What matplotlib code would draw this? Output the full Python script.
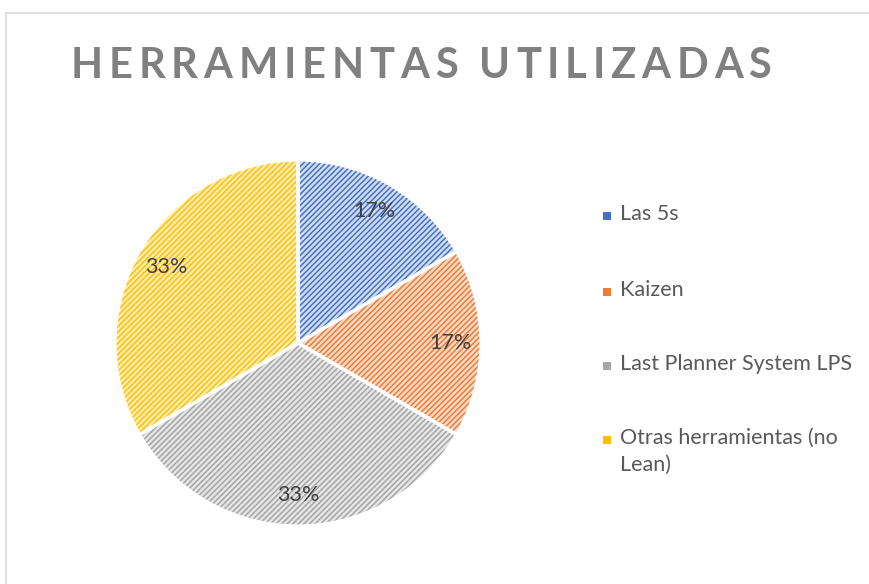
import matplotlib.pyplot as plt
from matplotlib.patches import Rectangle

labels = ["Las 5s", "Kaizen", "Last Planner System LPS", "Otras herramientas (no\nLean)"]
values = [1, 1, 2, 2]
dark = ["#4472C4", "#ED7D31", "#A5A5A5", "#FFC000"]
light = ["#D3DDF2", "#FADACA", "#E6E6E6", "#FFEDB5"]
title = "HERRAMIENTAS UTILIZADAS"

plt.rcParams["font.family"] = ["Lato", "DejaVu Sans"]
plt.rcParams["hatch.linewidth"] = 1.1

fig = plt.figure(figsize=(8.7, 5.84), dpi=100)
fig.patches.append(Rectangle((6 / 870, -0.1), 1.2, (584 - 13) / 584 + 0.1,
                             transform=fig.transFigure, fill=False,
                             edgecolor="#D9D9D9", linewidth=1.2))

# pie area: center (298, 343), radius ~185 px
r = 185
ax = fig.add_axes([(298 - r) / 870, (584 - 343 - r) / 584, 2 * r / 870, 2 * r / 584])

# hatched fill
wedges, _ = ax.pie(values, startangle=90, counterclock=False, radius=1,
                   colors=light)
for w, d in zip(wedges, dark):
    w.set_hatch("//////")
    w.set_edgecolor(d)
    w.set_linewidth(0)

# white separators and percentage labels
_, _, autotexts = ax.pie(values, startangle=90, counterclock=False, radius=1,
                         colors=["none"] * 4, autopct="%1.0f%%", pctdistance=0.83,
                         wedgeprops=dict(edgecolor="white", linewidth=2.5),
                         textprops=dict(fontsize=15.5, color="#404040",
                                        family=["Lato", "DejaVu Sans"]))
ax.set_xlim(-1.01, 1.01)
ax.set_ylim(-1.01, 1.01)

# title with letter spacing, drawn char by char
renderer = fig.canvas.get_renderer()
tkw = dict(fontsize=30, fontweight="bold", color="#808080", va="center", ha="left")
spacing = 5.8
total = fig.text(0, 0, title, **tkw).get_window_extent(renderer).width
for t in fig.texts[:]:
    t.remove()
x0 = 421 - (total + spacing * (len(title) - 1)) / 2
for i, ch in enumerate(title):
    if ch == " ":
        continue
    if i > 0:
        tmp = fig.text(0, 0, title[:i] + "|", **tkw)
        bar = fig.text(0, 0, "|", **tkw)
        off = tmp.get_window_extent(renderer).width - bar.get_window_extent(renderer).width
        tmp.remove()
        bar.remove()
    else:
        off = 0
    fig.text((x0 + off + spacing * i) / 870, (584 - 66) / 584, ch, **tkw)

# legend
ys = [216, 292, 366, 440]
for lab, y, d in zip(labels, ys, dark):
    fig.patches.append(Rectangle((603 / 870, (584 - y - 4) / 584), 8 / 870, 8 / 584,
                                 transform=fig.transFigure, facecolor=d,
                                 edgecolor="none"))
    fig.text(620 / 870, (584 - y) / 584 + 0.021, lab, ha="left", va="top",
             fontsize=15.5, color="#595959", linespacing=1.45)

fig.savefig("out.png", dpi=100)
